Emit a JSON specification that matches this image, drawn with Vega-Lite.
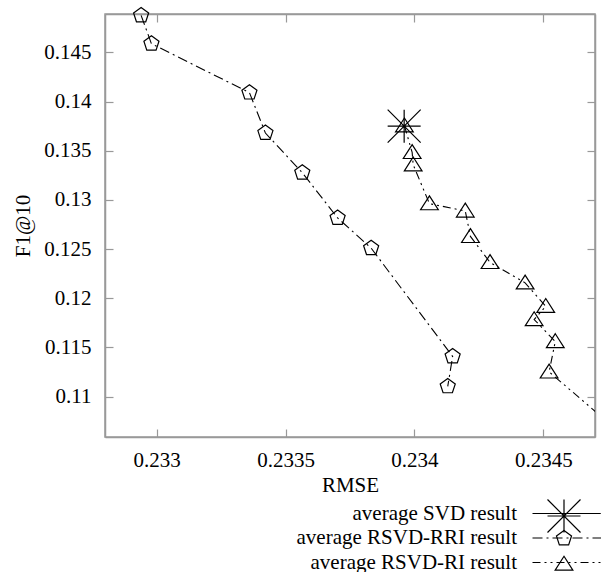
{
  "$schema": "https://vega.github.io/schema/vega-lite/v6.json",
  "width": 490,
  "height": 423,
  "autosize": {"type": "none"},
  "padding": {"left": 105, "top": 14, "right": 6, "bottom": 135},
  "background": "white",
  "config": {
    "font": "Liberation Serif",
    "view": {"stroke": "#999999", "strokeWidth": 1.5},
    "axis": {
      "grid": false,
      "domainColor": "#999999",
      "domainWidth": 1.5,
      "tickColor": "#999999",
      "tickWidth": 1.2,
      "tickSize": -8,
      "labelFont": "Liberation Serif",
      "titleFont": "Liberation Serif",
      "labelFontSize": 21,
      "titleFontSize": 21,
      "labelColor": "black",
      "titleColor": "black",
      "titleFontWeight": "normal"
    },
    "legend": {"labelFont": "Liberation Serif", "labelFontSize": 21, "labelColor": "black", "labelLimit": 0}
  },
  "data": {
    "values": [
      {"series": "average SVD result", "i": 0, "rmse": 0.23396, "f1": 0.1375},
      {"series": "average RSVD-RRI result", "i": 1, "rmse": 0.23294, "f1": 0.14876},
      {"series": "average RSVD-RRI result", "i": 2, "rmse": 0.23298, "f1": 0.14588},
      {"series": "average RSVD-RRI result", "i": 3, "rmse": 0.23336, "f1": 0.14091},
      {"series": "average RSVD-RRI result", "i": 4, "rmse": 0.233422, "f1": 0.1368},
      {"series": "average RSVD-RRI result", "i": 5, "rmse": 0.233565, "f1": 0.13277},
      {"series": "average RSVD-RRI result", "i": 6, "rmse": 0.233702, "f1": 0.12817},
      {"series": "average RSVD-RRI result", "i": 7, "rmse": 0.233832, "f1": 0.1251},
      {"series": "average RSVD-RRI result", "i": 8, "rmse": 0.234148, "f1": 0.11409},
      {"series": "average RSVD-RRI result", "i": 9, "rmse": 0.234129, "f1": 0.11105},
      {"series": "average RSVD-RI result", "i": 1, "rmse": 0.233961, "f1": 0.13754},
      {"series": "average RSVD-RI result", "i": 2, "rmse": 0.233991, "f1": 0.13483},
      {"series": "average RSVD-RI result", "i": 3, "rmse": 0.233995, "f1": 0.13358},
      {"series": "average RSVD-RI result", "i": 4, "rmse": 0.234058, "f1": 0.12962},
      {"series": "average RSVD-RI result", "i": 5, "rmse": 0.234197, "f1": 0.12888},
      {"series": "average RSVD-RI result", "i": 6, "rmse": 0.234217, "f1": 0.12629},
      {"series": "average RSVD-RI result", "i": 7, "rmse": 0.234293, "f1": 0.12365},
      {"series": "average RSVD-RI result", "i": 8, "rmse": 0.234429, "f1": 0.12157},
      {"series": "average RSVD-RI result", "i": 9, "rmse": 0.234509, "f1": 0.11919},
      {"series": "average RSVD-RI result", "i": 10, "rmse": 0.234464, "f1": 0.11784},
      {"series": "average RSVD-RI result", "i": 11, "rmse": 0.234546, "f1": 0.11561},
      {"series": "average RSVD-RI result", "i": 12, "rmse": 0.234522, "f1": 0.11252},
      {"series": "average RSVD-RI result", "i": 13, "rmse": 0.234793, "f1": 0.10644}
    ]
  },
  "layer": [
    {
      "mark": {"type": "line", "clip": true, "color": "black", "strokeWidth": 1.1},
      "encoding": {
        "x": {
          "field": "rmse", "type": "quantitative",
          "scale": {"domain": [0.2328, 0.2347], "nice": false, "zero": false},
          "axis": {"orient": "bottom", "values": [0.233, 0.2335, 0.234, 0.2345], "format": ".4~f", "title": "RMSE", "labelPadding": 20, "titlePadding": 4}
        },
        "y": {
          "field": "f1", "type": "quantitative",
          "scale": {"domain": [0.1059, 0.1489], "nice": false, "zero": false},
          "axis": {"orient": "left", "values": [0.11, 0.115, 0.12, 0.125, 0.13, 0.135, 0.14, 0.145], "format": ".3~f", "title": "F1@10", "labelPadding": 22, "titlePadding": 10}
        },
        "order": {"field": "i", "type": "quantitative"},
        "strokeDash": {
          "field": "series", "type": "nominal",
          "scale": {
            "domain": ["average SVD result", "average RSVD-RRI result", "average RSVD-RI result"],
            "range": [[1, 0], [10, 4, 2, 4], [8, 4, 2, 4, 2, 4]]
          },
          "legend": {
            "orient": "none", "legendX": 453, "legendY": 489, "title": null, "padding": 0,
            "symbolType": "M-7.2,0H7.2", "symbolSize": 100, "symbolStrokeWidth": 1.1,
            "symbolStrokeColor": "black", "labelAlign": "right", "labelOffset": -62,
            "labelFontSize": 21, "labelLimit": 0, "rowPadding": 2.5
          }
        }
      }
    },
    {
      "mark": {"type": "point", "filled": false, "color": "black", "size": 225, "strokeWidth": 1.2, "opacity": 1},
      "transform": [
        {"filter": {"field": "rmse", "range": [0.2328, 0.2347]}},
        {"filter": {"field": "series", "oneOf": ["average RSVD-RRI result", "average RSVD-RI result"]}}
      ],
      "encoding": {
        "x": {
          "field": "rmse", "type": "quantitative",
          "axis": {"orient": "top", "values": [0.233, 0.2335, 0.234, 0.2345], "labels": false, "title": null}
        },
        "y": {
          "field": "f1", "type": "quantitative",
          "axis": {"orient": "right", "values": [0.11, 0.115, 0.12, 0.125, 0.13, 0.135, 0.14, 0.145], "labels": false, "title": null}
        },
        "shape": {
          "field": "series", "type": "nominal", "sort": "descending",
          "scale": {
            "range": [
              "M0,-1.056L1.005,-0.326L0.62,0.854L-0.62,0.854L-1.005,-0.326Z",
              "M0,-1.034L1.18,0.814L-1.18,0.814Z"
            ]
          },
          "legend": {
            "orient": "none", "legendX": 450.5, "legendY": 516, "title": null, "padding": 0,
            "symbolSize": 225, "symbolStrokeWidth": 1.2, "symbolStrokeColor": "black",
            "labelExpr": "''", "labelFontSize": 1, "rowPadding": 5.5
          }
        }
      }
    },
    {
      "mark": {"type": "point", "filled": false, "color": "black", "size": 225, "strokeWidth": 1.2, "opacity": 1},
      "transform": [
        {"filter": {"field": "series", "equal": "average SVD result"}}
      ],
      "encoding": {
        "x": {"field": "rmse", "type": "quantitative", "axis": null},
        "y": {"field": "f1", "type": "quantitative", "axis": null},
        "shape": {
          "field": "series", "type": "nominal",
          "scale": {
            "range": ["M-2.2,0H2.2M0,-2.2V2.2M-2.2,-2.2L2.2,2.2M-2.2,2.2L2.2,-2.2"]
          },
          "legend": {
            "orient": "none", "legendX": 450.5, "legendY": 493.5, "title": null, "padding": 0,
            "symbolSize": 225, "symbolStrokeWidth": 1.2, "symbolStrokeColor": "black",
            "labelExpr": "''", "labelFontSize": 1
          }
        }
      }
    }
  ],
  "resolve": {
    "axis": {"x": "independent", "y": "independent"},
    "scale": {"shape": "independent"},
    "legend": {"shape": "independent"}
  }
}
